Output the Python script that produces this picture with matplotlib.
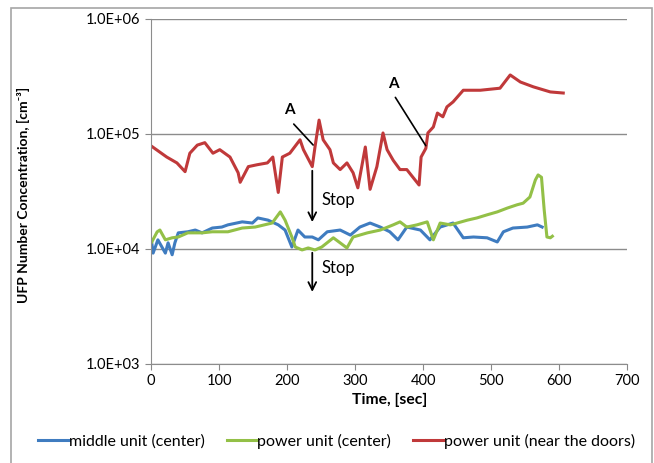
import matplotlib
matplotlib.use('Agg')
import matplotlib.pyplot as plt
from matplotlib.patches import Rectangle

plt.rcParams['font.family'] = ['Lato', 'DejaVu Sans']

# middle unit (center)
t_blue = [1, 3, 10, 21, 25, 31, 35, 40, 54, 65, 75, 90, 104, 113, 134, 149, 157, 172,
          187, 197, 207, 216, 226, 237, 246, 259, 278, 293, 307, 322, 337, 351, 363,
          376, 396, 410, 425, 444, 459, 474, 494, 509, 518, 532, 553, 568, 575]
c_blue = [1.13e4, 9.2e3, 1.2e4, 9.2e3, 1.13e4, 8.9e3, 1.13e4, 1.38e4, 1.41e4, 1.46e4,
          1.38e4, 1.52e4, 1.55e4, 1.62e4, 1.72e4, 1.68e4, 1.86e4, 1.78e4, 1.62e4,
          1.46e4, 1.04e4, 1.46e4, 1.27e4, 1.27e4, 1.2e4, 1.41e4, 1.46e4, 1.32e4,
          1.55e4, 1.68e4, 1.55e4, 1.41e4, 1.2e4, 1.55e4, 1.46e4, 1.2e4, 1.55e4,
          1.68e4, 1.25e4, 1.27e4, 1.25e4, 1.15e4, 1.41e4, 1.52e4, 1.55e4, 1.62e4, 1.55e4]

# power unit (center)
t_green = [1, 9, 13, 21, 31, 40, 54, 75, 90, 113, 134, 153, 178, 190, 197, 207, 212,
           222, 231, 241, 251, 268, 288, 297, 318, 337, 356, 366, 376, 391, 406, 415,
           425, 440, 450, 465, 479, 494, 509, 524, 538, 547, 557, 565, 569, 574, 578,
           582, 587, 590]
c_green = [1.15e4, 1.41e4, 1.46e4, 1.2e4, 1.25e4, 1.27e4, 1.38e4, 1.38e4, 1.41e4,
           1.41e4, 1.52e4, 1.55e4, 1.68e4, 2.1e4, 1.78e4, 1.27e4, 1.04e4, 9.8e3,
           1.02e4, 9.8e3, 1.04e4, 1.25e4, 1.02e4, 1.27e4, 1.38e4, 1.46e4, 1.62e4,
           1.72e4, 1.55e4, 1.62e4, 1.72e4, 1.2e4, 1.68e4, 1.62e4, 1.68e4, 1.78e4,
           1.86e4, 1.98e4, 2.1e4, 2.27e4, 2.42e4, 2.5e4, 2.83e4, 3.98e4, 4.4e4,
           4.2e4, 2.18e4, 1.27e4, 1.25e4, 1.29e4]

# power unit (near the doors)
t_red = [1, 23, 38, 50, 57, 68, 79, 91, 101, 116, 128, 131, 143, 156, 171, 179, 187,
         193, 204, 219, 224, 237, 241, 247, 253, 263, 268, 278, 288, 297, 304, 315,
         322, 332, 341, 347, 356, 366, 376, 385, 394, 397, 404, 407, 415, 421, 429,
         435, 444, 459, 484, 513, 528, 543, 562, 587, 606]
c_red = [7.8e4, 6.3e4, 5.6e4, 4.7e4, 6.8e4, 8.0e4, 8.4e4, 6.8e4, 7.3e4, 6.3e4, 4.6e4,
         3.8e4, 5.2e4, 5.4e4, 5.6e4, 6.3e4, 3.1e4, 6.3e4, 6.8e4, 8.9e4, 7.3e4, 5.2e4,
         7.7e4, 1.32e5, 8.9e4, 7.3e4, 5.6e4, 4.9e4, 5.6e4, 4.6e4, 3.4e4, 7.7e4,
         3.3e4, 5.2e4, 1.02e5, 7.3e4, 5.9e4, 4.9e4, 4.9e4, 4.2e4, 3.6e4, 6.3e4,
         7.5e4, 1.02e5, 1.15e5, 1.52e5, 1.41e5, 1.72e5, 1.9e5, 2.4e5, 2.4e5, 2.5e5,
         3.26e5, 2.83e5, 2.57e5, 2.32e5, 2.27e5]

labels = ['middle unit (center)', 'power unit (center)', 'power unit (near the doors)']
colors = ['#3f7cc0', '#93c047', '#c0393a']

fig = plt.figure(figsize=(6.54, 4.63), dpi=100)
ax = fig.add_axes([0.231, 0.214, 0.728, 0.745])

ax.plot(t_blue, c_blue, color=colors[0], lw=2.2, label=labels[0])
ax.plot(t_green, c_green, color=colors[1], lw=2.2, label=labels[1])
ax.plot(t_red, c_red, color=colors[2], lw=2.2, label=labels[2])

ax.set_yscale('log')
ax.set_xlim(0, 700)
ax.set_ylim(1e3, 1e6)
ax.set_xticks(range(0, 701, 100))
ax.set_yticks([1e3, 1e4, 1e5, 1e6])
ax.set_yticklabels(['1.0E+03', '1.0E+04', '1.0E+05', '1.0E+06'])
ax.yaxis.set_minor_locator(matplotlib.ticker.NullLocator())
ax.tick_params(labelsize=10.5, colors='#888888', labelcolor='black', length=4)
ax.grid(axis='y', color='#8c8c8c', lw=1)
for s in ['top', 'right']:
    ax.spines[s].set_visible(False)
for s in ['left', 'bottom']:
    ax.spines[s].set_color('#8c8c8c')

ax.set_xlabel('Time, [sec]', fontsize=11.3, fontweight='bold', labelpad=3)
ax.set_ylabel('UFP Number Concentration, [cm⁻³]', fontsize=10.0, fontweight='bold')
ax.yaxis.label.set_va('center')
ax.yaxis.set_label_coords(-0.268, 0.49)

# annotations
ax.annotate('', xy=(241, 7.7e4), xytext=(207, 1.27e5),
            arrowprops=dict(arrowstyle='-', color='black', lw=1.2))
ax.text(204, 1.62e5, 'A', fontsize=11, fontweight='bold', ha='center', va='center')
ax.annotate('', xy=(406, 7.55e4), xytext=(357, 2.18e5),
            arrowprops=dict(arrowstyle='-', color='black', lw=1.2))
ax.text(356, 2.7e5, 'A', fontsize=11, fontweight='bold', ha='center', va='center')

ax.annotate('', xy=(237, 1.62e4), xytext=(237, 5.06e4),
            arrowprops=dict(arrowstyle='->', color='black', lw=1.3, mutation_scale=14))
ax.text(251, 2.67e4, 'Stop', fontsize=12, ha='left', va='center')
ax.annotate('', xy=(237, 4.0e3), xytext=(237, 9.8e3),
            arrowprops=dict(arrowstyle='->', color='black', lw=1.3, mutation_scale=14))
ax.text(250, 6.8e3, 'Stop', fontsize=12, ha='left', va='center')

fig.legend(loc='center', bbox_to_anchor=(336.5 / 654, 1 - 441 / 463), ncol=3, frameon=False,
           fontsize=11.5, handlelength=1.9, handletextpad=0.0, columnspacing=1.4)

fig.patches.append(Rectangle((11 / 654, -0.05), (652 - 11) / 654, 1.05 - 8 / 463,
                             transform=fig.transFigure, fill=False,
                             edgecolor='#a6a6a6', lw=1.2))

fig.savefig('out.png', dpi=100)
